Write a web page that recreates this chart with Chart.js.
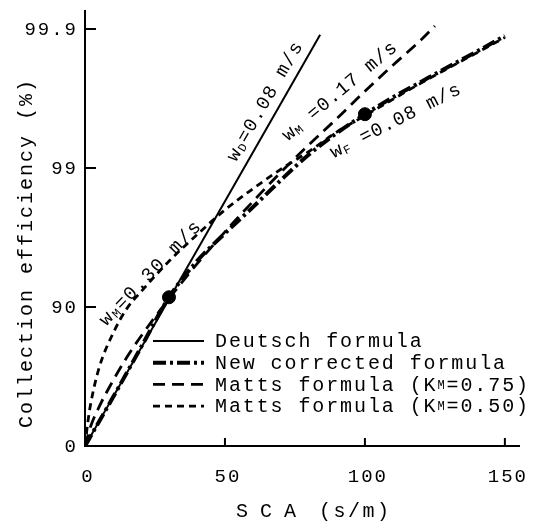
<!DOCTYPE html>
<html>
<head>
<meta charset="utf-8">
<title>Collection efficiency vs SCA</title>
<script src="https://cdn.jsdelivr.net/npm/chart.js@4"></script>
<style>
  html, body { margin: 0; padding: 0; background: #fff; }
  canvas { display: block; }
</style>
</head>
<body>
<canvas id="efficiencyChart" width="535" height="523"></canvas>
<script>
// Values: SCA in s/m, collection efficiency in %
const deutschSCA = [0, 84];
const deutschEff = [0, 99.89];

const newSCA = [0, 10, 20, 30, 40, 50, 60, 70, 80, 90, 100, 110, 120, 130, 140, 150];
const newEff = [0, 55.33, 80.5, 91.49, 95.32, 97.05, 98.09, 98.78, 99.2, 99.44, 99.59, 99.69, 99.76, 99.814, 99.855, 99.888];

const matts75SCA = [0, 2, 5, 10, 15, 20, 30, 40, 50, 60, 70, 80, 90, 100, 110, 120, 125];
const matts75Eff = [0, 27.56, 47.52, 66.12, 77.09, 83.78, 91.29, 95.1, 97.12, 98.26, 98.93, 99.32, 99.56, 99.72, 99.818, 99.88, 99.905];

const matts50SCA = [0, 1, 2, 5, 10, 15, 20, 30, 40, 50, 60, 70, 80, 90, 100, 110, 120, 130, 140, 150];
const matts50Eff = [0, 32.4, 49.88, 72.46, 84.51, 89.77, 92.24, 95.32, 96.98, 98.0, 98.59, 98.98, 99.24, 99.45, 99.58, 99.68, 99.755, 99.81, 99.852, 99.885];

// Black dots on the new corrected curve
const markSCA = [30, 100];
const markEff = [91.49, 99.59];

const xTicks = [0, 50, 100, 150];
const yTicks = [0, 90, 99, 99.9];
const yTickLabels = ['0', '90', '99', '99.9'];

const FONT = '"Liberation Mono", "DejaVu Sans Mono", monospace';

// efficiency axis is drawn as number of nines: -log10(1 - eff)
function nines(eff) {
  return -Math.log10(1 - eff / 100);
}

function toPoints(xs, effs) {
  return xs.map((x, i) => ({ x: x, y: nines(effs[i]) }));
}

// Line styles
const styles = {
  deutsch: { width: 2, dash: [] },
  corrected: { width: 4, dash: [13, 4, 3, 4] },
  matts75: { width: 2.8, dash: [12, 7] },
  matts50: { width: 2.8, dash: [7, 5] }
};

// Draw text made of parts, some of them small (subscripts)
function drawRich(ctx, parts, x, y, size) {
  let cx = x;
  parts.forEach(p => {
    const s = p.sub ? Math.round(size * 0.62) : size;
    ctx.font = s + 'px ' + FONT;
    ctx.fillText(p.t, cx, y + (p.drop || 0));
    cx += ctx.measureText(p.t).width;
  });
}

const legendRows = [
  { style: styles.deutsch, parts: [{ t: 'Deutsch formula' }] },
  { style: styles.corrected, parts: [{ t: 'New corrected formula' }] },
  { style: styles.matts75, parts: [{ t: 'Matts formula (K' }, { t: 'M', sub: true }, { t: '=0.75)' }] },
  { style: styles.matts50, parts: [{ t: 'Matts formula (K' }, { t: 'M', sub: true }, { t: '=0.50)' }] }
];

// Rotated labels along the curves, anchored in data units (SCA, nines)
const curveNotes = [
  { parts: [{ t: 'w' }, { t: 'D', sub: true, drop: 2 }, { t: '=0.08 m/s' }], sca: 53.9, n: 2.04, angle: 60, spacing: 1.3 },
  { parts: [{ t: 'w' }, { t: 'M', sub: true, drop: 2 }, { t: '=0.30 m/s' }], sca: 7.6, n: 0.86, angle: 46, spacing: 1.6 },
  { parts: [{ t: 'w' }, { t: 'M', sub: true, drop: 2 }, { t: ' =0.17 m/s' }], sca: 72.5, n: 2.19, angle: 40, spacing: 1 },
  { parts: [{ t: 'w' }, { t: 'F', sub: true, drop: 2 }, { t: ' =0.08 m/s' }], sca: 88.9, n: 2.07, angle: 27, spacing: 1 }
];

const framePlugin = {
  id: 'frame',
  beforeDraw(chart) {
    const ctx = chart.ctx;
    ctx.save();
    ctx.fillStyle = '#fff';
    ctx.fillRect(0, 0, chart.width, chart.height);
    ctx.restore();
  },
  afterDraw(chart) {
    const ctx = chart.ctx;
    const area = chart.chartArea;
    const xs = chart.scales.x;
    const ys = chart.scales.y;

    ctx.save();
    ctx.strokeStyle = '#000';
    ctx.fillStyle = '#000';
    ctx.lineWidth = 2;

    // Axes
    ctx.beginPath();
    ctx.moveTo(area.left, area.top);
    ctx.lineTo(area.left, area.bottom);
    ctx.lineTo(area.right, area.bottom);
    ctx.stroke();

    // Tick marks, pointing inward
    ctx.beginPath();
    yTicks.forEach(v => {
      if (v === 0) return;
      const py = ys.getPixelForValue(nines(v));
      ctx.moveTo(area.left, py);
      ctx.lineTo(area.left + 11, py);
    });
    xTicks.forEach(v => {
      if (v === 0) return;
      const px = xs.getPixelForValue(v);
      ctx.moveTo(px, area.bottom);
      ctx.lineTo(px, area.bottom - 8);
    });
    ctx.stroke();

    // Tick labels
    ctx.font = '19px ' + FONT;
    ctx.letterSpacing = '2px';
    ctx.textBaseline = 'middle';
    ctx.textAlign = 'right';
    yTicks.forEach((v, i) => {
      ctx.fillText(yTickLabels[i], area.left - 7, ys.getPixelForValue(nines(v)) + 1);
    });
    ctx.textAlign = 'center';
    xTicks.forEach(v => {
      ctx.fillText(String(v), xs.getPixelForValue(v) + 3, area.bottom + 31);
    });

    // Axis titles
    ctx.font = '20px ' + FONT;
    ctx.letterSpacing = '0px';
    ctx.textAlign = 'left';
    ctx.fillText('S C A', 236, area.bottom + 66);
    ctx.letterSpacing = '2.5px';
    ctx.fillText('(s/m)', 319, area.bottom + 66);
    ctx.save();
    ctx.letterSpacing = '2px';
    ctx.translate(27, 253);
    ctx.rotate(-Math.PI / 2);
    ctx.textAlign = 'center';
    ctx.fillText('Collection efficiency (%)', 0, 0);
    ctx.restore();

    // Legend inside the plot
    ctx.letterSpacing = '1.9px';
    legendRows.forEach((row, i) => {
      const ly = 341 + i * 21.7;
      ctx.save();
      ctx.lineWidth = row.style.width;
      ctx.setLineDash(row.style.dash);
      ctx.beginPath();
      ctx.moveTo(153, ly);
      ctx.lineTo(204, ly);
      ctx.stroke();
      ctx.restore();
      ctx.textAlign = 'left';
      ctx.textBaseline = 'middle';
      drawRich(ctx, row.parts, 215, ly + 1, 20);
    });

    // Curve labels
    ctx.textBaseline = 'alphabetic';
    curveNotes.forEach(note => {
      ctx.save();
      ctx.letterSpacing = note.spacing + 'px';
      ctx.translate(xs.getPixelForValue(note.sca), ys.getPixelForValue(note.n));
      ctx.rotate(-note.angle * Math.PI / 180);
      drawRich(ctx, note.parts, 0, 0, 19);
      ctx.restore();
    });

    ctx.restore();
  }
};

function lineDataset(label, xs, effs, style, order) {
  return {
    label: label,
    data: toPoints(xs, effs),
    borderColor: '#000',
    borderWidth: style.width,
    borderDash: style.dash,
    pointRadius: 0,
    cubicInterpolationMode: 'monotone',
    fill: false,
    order: order
  };
}

function initializeChart() {
  const canvas = document.getElementById('efficiencyChart');
  new Chart(canvas, {
    type: 'line',
    data: {
      datasets: [
        {
          label: 'marks',
          data: toPoints(markSCA, markEff),
          showLine: false,
          pointRadius: 6.5,
          pointBackgroundColor: '#000',
          pointBorderColor: '#000',
          order: 0
        },
        lineDataset('Deutsch formula', deutschSCA, deutschEff, styles.deutsch, 1),
        lineDataset('New corrected formula', newSCA, newEff, styles.corrected, 2),
        lineDataset('Matts formula (KM=0.75)', matts75SCA, matts75Eff, styles.matts75, 3),
        lineDataset('Matts formula (KM=0.50)', matts50SCA, matts50Eff, styles.matts50, 4)
      ]
    },
    options: {
      responsive: false,
      animation: false,
      devicePixelRatio: 1,
      layout: { padding: { left: 0, right: 15, top: 10, bottom: 0 } },
      plugins: {
        legend: { display: false },
        tooltip: { enabled: false }
      },
      scales: {
        x: {
          type: 'linear',
          min: 0,
          max: 155.4,
          grid: { display: false, drawTicks: false },
          border: { display: false },
          ticks: { display: false },
          afterFit: scale => { scale.height = 77; }
        },
        y: {
          type: 'linear',
          min: 0,
          max: 3.137,
          grid: { display: false, drawTicks: false },
          border: { display: false },
          ticks: { display: false },
          afterFit: scale => { scale.width = 85; }
        }
      }
    },
    plugins: [framePlugin]
  });
}

document.addEventListener('DOMContentLoaded', initializeChart);
</script>
</body>
</html>
